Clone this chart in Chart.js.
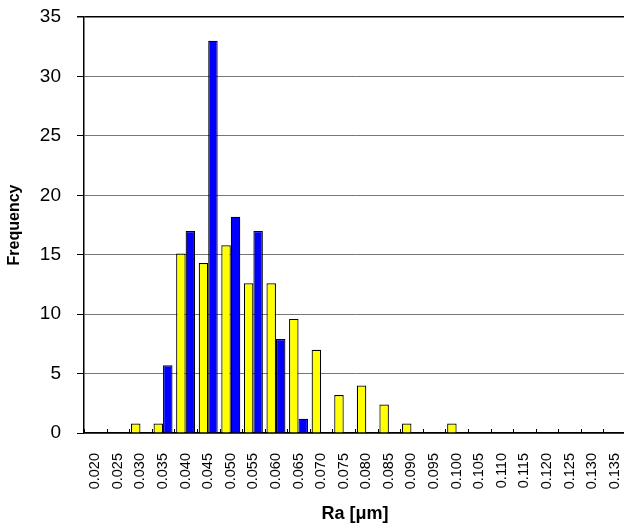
<!DOCTYPE html>
<html>
<head>
<meta charset="utf-8">
<script src="https://cdn.jsdelivr.net/npm/chart.js@4"></script>
<style>
  html, body { margin: 0; padding: 0; background: #fff; overflow: hidden; }
  #wrap { width: 640px; height: 527px; }
</style>
</head>
<body>
<div id="wrap"><canvas id="raChart" width="640" height="527"></canvas></div>
<script>
// Ra histogram data
const categories = ['0.020', '0.025', '0.030', '0.035', '0.040', '0.045', '0.050', '0.055',
    '0.060', '0.065', '0.070', '0.075', '0.080', '0.085', '0.090', '0.095',
    '0.100', '0.105', '0.110', '0.115', '0.120', '0.125', '0.130', '0.135'];
const yellowFreq = [0, 0, 0.8, 0.8, 15.1, 14.3, 15.8, 12.6, 12.6, 9.6, 7.0, 3.2,
    4.0, 2.4, 0.8, 0, 0.8, 0, 0, 0, 0, 0, 0, 0];
const blueFreq = [0, 0, 0, 5.7, 17.0, 33.0, 18.2, 17.0, 7.9, 1.2, 0, 0,
    0, 0, 0, 0, 0, 0, 0, 0, 0, 0, 0, 0];
const yTicks = [0, 5, 10, 15, 20, 25, 30, 35];

const FONT = "'Liberation Sans', Arial, sans-serif";

// small inward tick marks between categories on the x axis
const innerTicks = {
    id: 'innerTicks',
    afterDatasetsDraw(chart) {
        const x = chart.scales.x;
        const ctx = chart.ctx;
        const bottom = chart.chartArea.bottom;
        ctx.save();
        ctx.strokeStyle = '#000';
        ctx.lineWidth = 1;
        ctx.beginPath();
        for (let i = 0; i <= categories.length; i++) {
            const px = Math.round(x.getPixelForValue(i - 0.5)) + 0.5;
            ctx.moveTo(px, bottom);
            ctx.lineTo(px, bottom - 4);
        }
        ctx.stroke();
        ctx.restore();
    }
};

const ctx = document.getElementById('raChart').getContext('2d');
new Chart(ctx, {
    type: 'bar',
    data: {
        labels: categories,
        datasets: [{
            label: 'A',
            data: yellowFreq,
            backgroundColor: '#ffff00',
            borderColor: '#000',
            borderWidth: 1.2
        }, {
            label: 'B',
            data: blueFreq,
            backgroundColor: '#0000ff',
            borderColor: '#000',
            borderWidth: 1.2
        }]
    },
    options: {
        responsive: false,
        animation: false,
        layout: { padding: { top: 17, right: 14, left: 0, bottom: 0 } },
        categoryPercentage: 0.84,
        barPercentage: 1.0,
        plugins: {
            legend: { display: false },
            tooltip: { enabled: false }
        },
        scales: {
            x: {
                grid: { display: false, offset: true },
                border: { color: '#000', width: 1.5 },
                ticks: {
                    font: { family: FONT, size: 14.5 },
                    color: '#000',
                    minRotation: 90,
                    maxRotation: 90,
                    padding: 12,
                    autoSkip: false
                },
                title: {
                    display: true,
                    text: 'Ra [μm]',
                    font: { family: FONT, size: 18, weight: 'bold' },
                    color: '#000',
                    padding: { top: 0, bottom: 2 }
                },
                afterFit(scale) {
                    scale.height = 527 - 433;
                    scale.paddingLeft = 0;
                    scale.paddingRight = 0;
                }
            },
            y: {
                min: 0,
                max: 35,
                afterBuildTicks(scale) { scale.ticks = yTicks.map(v => ({ value: v })); },
                grid: {
                    color: c => c.tick && c.tick.value === 35 ? '#000' : '#777',
                    lineWidth: c => c.tick && c.tick.value === 35 ? 1.5 : 1,
                    tickColor: '#000',
                    tickLength: 7
                },
                border: { color: '#000', width: 1.5 },
                ticks: {
                    font: { family: FONT, size: 19 },
                    color: '#000',
                    padding: 16
                },
                title: {
                    display: true,
                    text: 'Frequency',
                    font: { family: FONT, size: 16, weight: 'bold' },
                    color: '#000',
                    padding: { top: 5, bottom: 0 }
                },
                afterFit(scale) {
                    scale.width = 84;
                    scale.paddingTop = 0;
                    scale.paddingBottom = 0;
                }
            }
        }
    },
    plugins: [innerTicks]
});
</script>
</body>
</html>
